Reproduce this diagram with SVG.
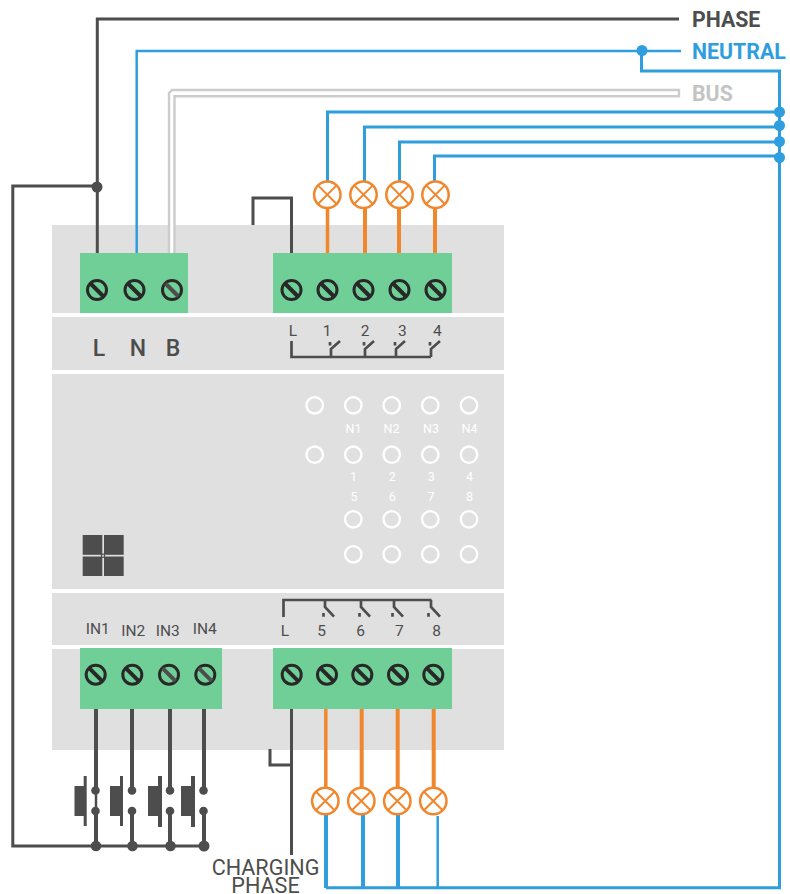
<svg xmlns="http://www.w3.org/2000/svg" width="790" height="894" viewBox="0 0 790 894">
<defs>
<style>
.w{fill:none}
.k{stroke:#4d4d4d;stroke-width:3}
.k4{stroke:#4d4d4d;stroke-width:4}
.k2{stroke:#4d4d4d;stroke-width:2.5}
.b{stroke:#2f9ede;stroke-width:3}
.bt{stroke:#2f9ede;stroke-width:4}
.o{stroke:#f0872d;stroke-width:4}
.g{stroke:#cccccc;stroke-width:2.400}
.panel{fill:#e0e0e0}
.term{fill:#70cf97}
.s{fill:none;stroke:#282828;stroke-width:3}
.lamp{fill:#fff;stroke:#f0872d;stroke-width:2.500}
.lx{stroke:#f0872d;stroke-width:2}
.led{fill:none;stroke:#fff;stroke-width:2.400}
.t{font-family:Roboto,"Liberation Sans",sans-serif;fill:#4d4d4d}
.n{font-size:15.500px;text-anchor:middle}
.lt{font-family:Roboto,"Liberation Sans",sans-serif;fill:#fff;font-size:12.500px;text-anchor:middle}
.big{font-size:23px;font-weight:500;text-anchor:middle}
.lab{font-family:Roboto,"Liberation Sans",sans-serif;font-size:21.300px;font-weight:700}
.ch{font-size:21.600px;text-anchor:middle}
.sw{fill:none;stroke:#4d4d4d;stroke-width:2.700}
.dk{fill:#4d4d4d}
.dotb{fill:#2f9ede}
</style>
<g id="screw"><circle class="s" r="9.500"/><path d="M-6.500-6.500 6.500 6.500" stroke="#282828" stroke-width="4"/></g>
<g id="screwg"><circle class="s" r="9.500"/><path d="M-6.500-6.500 6.500 6.500" stroke="#4d4d4d" stroke-width="4"/></g>
<g id="lampg"><circle class="lamp" r="13.200"/><path class="lx" d="M-9.300-9.300 9.300 9.300M-9.300 9.300 9.300-9.300"/></g>
<circle id="led" class="led" r="8.200"/>
</defs>

<g id="panels">
<rect class="panel" x="52" y="225" width="452" height="88"/>
<rect class="panel" x="52" y="317" width="452" height="53"/>
<rect class="panel" x="52" y="374" width="452" height="215"/>
<rect class="panel" x="52" y="593" width="452" height="52"/>
<rect class="panel" x="52" y="649" width="452" height="101"/>
</g>

<g id="connectors">
<path class="w k" d="M97.300 253V19H679"/>
<path class="w k" d="M97 186H12.800V846H204"/>
<path class="w k" d="M253 225V198H291.500V253"/>
<path class="w" stroke="#2f9ede" stroke-width="2.500" d="M136.700 253V51H681"/>
<path class="w" stroke="#fff" stroke-width="4" d="M172 253V93H679"/>
<path class="w g" d="M169 253V93L172 90H679V96.300H174.500V253"/>
<path class="w b" d="M641.500 51V71H779.500V862"/>
<path class="w b" d="M327.500 181V112H779.500"/>
<path class="w b" d="M364.500 181V127H779.500"/>
<path class="w b" d="M399.500 181V142H779.500"/>
<path class="w b" d="M434.500 181V156H779.500"/>
<path class="w" stroke="#f0872d" stroke-width="3.500" d="M327.500 208V253"/>
<path class="w o" d="M365 208V253M399 208V253M435 208V253"/>
<path class="w k4" d="M96 709V790M132 709V790M170 709V790M204 709V790M96 811V846M132 811V846M170 811V846M204 811V846"/>
<path class="w k2" d="M96 790V811"/>
<path class="w k" d="M291.500 709V855M291.500 765H270V749"/>
<path class="w" stroke="#f0872d" stroke-width="3.500" d="M325.800 709V788"/>
<path class="w o" d="M361.700 709V788M397.700 709V788M433.700 709V788"/>
<path class="w bt" d="M326 815V888M363 815V888M398 815V888"/>
<path class="w" stroke="#2f9ede" stroke-width="2.500" d="M437.700 816V888"/>
<path class="w b" d="M326 887.800H779.500V860"/>
</g>

<g id="junctions">
<circle class="dk" cx="97" cy="187" r="5.500"/>
<circle class="dotb" cx="642" cy="50.500" r="5.500"/>
<circle class="dotb" cx="779.500" cy="112" r="5.500"/>
<circle class="dotb" cx="779.500" cy="125.500" r="5.500"/>
<circle class="dotb" cx="779.500" cy="141.500" r="5.500"/>
<circle class="dotb" cx="779.500" cy="157.500" r="5.500"/>
<circle class="dk" cx="96" cy="846" r="5.300"/>
<circle class="dk" cx="132.500" cy="846" r="5.300"/>
<circle class="dk" cx="170.500" cy="846" r="5.300"/>
<circle class="dk" cx="204" cy="846" r="5.500"/>
</g>

<g id="terminal-LNB">
<rect class="term" x="80" y="253" width="108" height="60"/>
<use href="#screw" x="97" y="290"/><use href="#screw" x="134.500" y="290"/><use href="#screwg" x="172" y="290"/>
</g>
<g id="terminal-outputs-top">
<rect class="term" x="273" y="253" width="179" height="60"/>
<use href="#screw" x="291.500" y="290"/><use href="#screw" x="327.500" y="290"/><use href="#screw" x="363.500" y="290"/><use href="#screw" x="399.500" y="290"/><use href="#screw" x="435.500" y="290"/>
</g>
<g id="terminal-inputs">
<rect class="term" x="80" y="648" width="142" height="61"/>
<use href="#screw" x="95.700" y="674.700"/><use href="#screw" x="132.300" y="674.700"/><use href="#screwg" x="169" y="674.700"/><use href="#screwg" x="205.300" y="674.700"/>
</g>
<g id="terminal-outputs-bottom">
<rect class="term" x="273" y="648" width="179" height="61"/>
<use href="#screw" x="291.700" y="674.700"/><use href="#screw" x="327" y="674.700"/><use href="#screw" x="362.300" y="674.700"/><use href="#screw" x="398" y="674.700"/><use href="#screw" x="433.300" y="674.700"/>
</g>

<g id="lamps-top">
<use href="#lampg" x="327.300" y="194.700"/><use href="#lampg" x="363.500" y="194.700"/><use href="#lampg" x="399.500" y="194.700"/><use href="#lampg" x="435.500" y="194.700"/>
</g>
<g id="lamps-bottom">
<use href="#lampg" x="325.300" y="801"/><use href="#lampg" x="361.300" y="801"/><use href="#lampg" x="397.300" y="801"/><use href="#lampg" x="433.300" y="801"/>
</g>

<g id="labels-LNB" class="t big">
<text x="99" y="355.500">L</text><text x="138" y="355.500">N</text><text x="173" y="355.500">B</text>
</g>

<g id="relay-top">
<text class="t n" x="293" y="336">L</text><text class="t n" x="327" y="336">1</text><text class="t n" x="365" y="336">2</text><text class="t n" x="402.300" y="336">3</text><text class="t n" x="437.300" y="336">4</text>
<path class="sw" d="M291.500 341V357H431M331 357V349L340 341M365 357V349L374 341M396 357V349L405 341M431 357V349L440 341"/>
<path class="sw" d="M330 342V345.500M364 342V345.500M395 342V345.500M430 342V345.500"/>
</g>

<g id="leds">
<use href="#led" x="314.700" y="405.300"/><use href="#led" x="353.300" y="405.300"/><use href="#led" x="391.700" y="405.300"/><use href="#led" x="430.300" y="405.300"/><use href="#led" x="469" y="405.300"/>
<use href="#led" x="314.700" y="454.700"/><use href="#led" x="353.300" y="454.700"/><use href="#led" x="391.700" y="454.700"/><use href="#led" x="430.300" y="454.700"/><use href="#led" x="469" y="454.700"/>
<use href="#led" x="353.300" y="519.300"/><use href="#led" x="391.700" y="519.300"/><use href="#led" x="430.300" y="519.300"/><use href="#led" x="469" y="519.300"/>
<use href="#led" x="353.300" y="554.300"/><use href="#led" x="391.700" y="554.300"/><use href="#led" x="430.300" y="554.300"/><use href="#led" x="469" y="554.300"/>
<text class="lt" x="353.500" y="433.300">N1</text><text class="lt" x="391.500" y="433.300">N2</text><text class="lt" x="431" y="433.300">N3</text><text class="lt" x="469.500" y="433.300">N4</text>
<text class="lt" x="353.500" y="481">1</text><text class="lt" x="392.300" y="481">2</text><text class="lt" x="431.300" y="481">3</text><text class="lt" x="469.500" y="481">4</text>
<text class="lt" x="354" y="500.500">5</text><text class="lt" x="392.300" y="500.500">6</text><text class="lt" x="431" y="500.500">7</text><text class="lt" x="469.500" y="500.500">8</text>
</g>

<g id="logo">
<rect class="dk" x="82.700" y="535" width="19.600" height="19.800"/><rect class="dk" x="104" y="535" width="19.700" height="19.800"/>
<rect class="dk" x="82.700" y="556.500" width="19.600" height="19.500"/><rect class="dk" x="104" y="556.500" width="19.700" height="19.500"/>
<circle class="dk" cx="103" cy="555.700" r="2.200"/><circle cx="103" cy="555.700" r="1" fill="#e0e0e0"/>
</g>

<g id="labels-inputs" class="t n">
<text x="97.700" y="634">IN1</text><text x="133.300" y="635.500">IN2</text><text x="167.800" y="635.500">IN3</text><text x="204.800" y="634">IN4</text>
</g>

<g id="relay-bottom">
<path class="sw" d="M283.500 617V600H431.500M325 600V607L334 616.700M361 600V607L370 616.700M394 600V607L403 616.700M431 600V607L440 616.700"/>
<path class="sw" d="M323.500 613V616.700M359.500 613V616.700M392.500 613V616.700M428.500 613V616.700"/>
<text class="t n" x="285" y="635.500">L</text><text class="t n" x="321.700" y="635.500">5</text><text class="t n" x="360.700" y="635.500">6</text><text class="t n" x="399.300" y="635.500">7</text><text class="t n" x="436.700" y="635.500">8</text>
</g>

<g id="buttons">
<g id="button-1"><rect class="dk" x="74.500" y="786" width="10" height="30"/><rect class="dk" x="83.700" y="776" width="3" height="50"/><circle class="dk" cx="95.500" cy="790.500" r="4.300"/><circle class="dk" cx="95.500" cy="811" r="4.300"/></g>
<g id="button-2"><rect class="dk" x="110" y="786" width="10.500" height="30"/><rect class="dk" x="120" y="776" width="3" height="50"/><circle class="dk" cx="132" cy="790.500" r="4.300"/><circle class="dk" cx="132" cy="811" r="4.300"/></g>
<g id="button-3"><rect class="dk" x="148" y="786" width="10.500" height="30"/><rect class="dk" x="158" y="776" width="4" height="51"/><circle class="dk" cx="170" cy="790.500" r="4.300"/><circle class="dk" cx="170" cy="811" r="4.300"/></g>
<g id="button-4"><rect class="dk" x="181" y="786" width="10.500" height="30"/><rect class="dk" x="191" y="776" width="4" height="51"/><circle class="dk" cx="203.500" cy="790.500" r="4.300"/><circle class="dk" cx="203.500" cy="811" r="4.300"/></g>
</g>

<g id="legend">
<text class="t lab" x="692" y="26.500">PHASE</text>
<text class="lab" x="692" y="58.500" fill="#2f9ede">NEUTRAL</text>
<text class="lab" x="692" y="101.300" fill="#c4c4c4">BUS</text>
</g>
<g id="charging-phase">
<text class="t ch" x="265.500" y="875">CHARGING</text>
<text class="t ch" x="265.500" y="893">PHASE</text>
</g>
</svg>
